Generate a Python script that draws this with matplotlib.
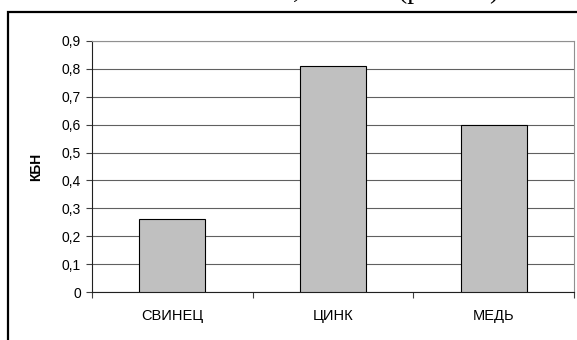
import matplotlib.pyplot as plt
from matplotlib.patches import Rectangle

# data
metals = ["СВИНЕЦ", "ЦИНК", "МЕДЬ"]
kbn = [0.26, 0.81, 0.60]
yticks = [0, 0.1, 0.2, 0.3, 0.4, 0.5, 0.6, 0.7, 0.8, 0.9]
ytick_labels = ["0", "0,1", "0,2", "0,3", "0,4", "0,5", "0,6", "0,7", "0,8", "0,9"]

plt.rcParams['font.family'] = ['Liberation Sans', 'DejaVu Sans']

fig = plt.figure(figsize=(5.77, 3.4), dpi=100)

# outer frame of the chart object (right/bottom lie off the page)
fig.patches.append(Rectangle((8 / 577, -0.1), 1.2, 1.1 - 12 / 340,
                             transform=fig.transFigure, fill=False,
                             edgecolor='black', linewidth=1.6))

# text line above the chart, only its lowest part is on the page
fig.text(293 / 577, 1 + 2 / 340, ",", family='Liberation Serif',
         fontsize=20, va='baseline')
fig.text(398 / 577, 1 + 2 / 340, "(рис. 10)", family='Liberation Serif',
         fontsize=20, va='baseline')

ax = fig.add_axes([92 / 577, 1 - 292 / 340, (574 - 92) / 577, (292 - 41) / 340])

x = list(range(len(metals)))
ax.bar(x, kbn, width=0.41, color='#C0C0C0', edgecolor='black',
       linewidth=0.8, zorder=3)

ax.set_xlim(-0.5, 2.5)
ax.set_ylim(0, 0.9)
ax.set_yticks(yticks)
ax.set_yticklabels(ytick_labels)
ax.yaxis.grid(True, color='#606060', linewidth=0.8, zorder=0)

# category boundaries as ticks, names centred between them
ax.set_xticks([-0.5, 0.5, 1.5, 2.5])
ax.set_xticklabels([])
ax.set_xticks(x, minor=True)
ax.set_xticklabels(metals, minor=True,
                   family=['Liberation Sans Narrow', 'Liberation Sans'])
ax.tick_params(axis='x', which='minor', length=0, pad=12, labelsize=10.5)
ax.tick_params(axis='x', which='major', length=4, width=0.8, color='#404040')
ax.tick_params(axis='y', length=4, width=0.8, color='#404040', labelsize=10, pad=4)

for s in ['top', 'right']:
    ax.spines[s].set_color('#909090')
    ax.spines[s].set_linewidth(0.8)
for s in ['left', 'bottom']:
    ax.spines[s].set_color('#202020')
    ax.spines[s].set_linewidth(0.8)

ax.set_ylabel("КБН", fontsize=10, fontweight='bold', labelpad=13)

fig.savefig("out.png", dpi=100)
